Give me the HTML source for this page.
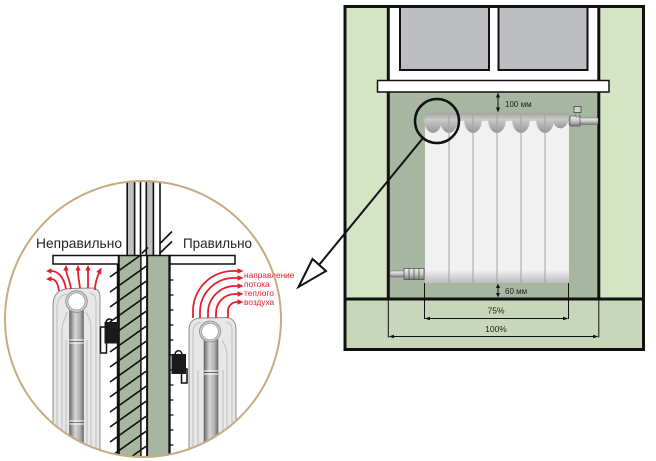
<!DOCTYPE html>
<html><head><meta charset="utf-8"><style>
html,body{margin:0;padding:0;background:#fff;width:656px;height:461px;overflow:hidden;}
svg{display:block;overflow:hidden;}
text{font-family:"Liberation Sans","DejaVu Sans",sans-serif;}
</style></head><body>
<svg width="656" height="461" viewBox="0 0 656 461" xmlns="http://www.w3.org/2000/svg">
<defs>
 <clipPath id="cc"><circle cx="143" cy="319" r="138"/></clipPath>
 <clipPath id="hc"><rect x="100" y="256" width="47" height="204"/></clipPath>
 <linearGradient id="tube" x1="0" x2="1" y1="0" y2="0">
  <stop offset="0" stop-color="#6a6a6a"/><stop offset="0.4" stop-color="#d6d6d6"/><stop offset="0.75" stop-color="#b0b0b0"/><stop offset="1" stop-color="#6e6e6e"/>
 </linearGradient>
 <linearGradient id="pipe" x1="0" x2="0" y1="0" y2="1">
  <stop offset="0" stop-color="#f2f2f2"/><stop offset="0.5" stop-color="#c8c8c8"/><stop offset="1" stop-color="#7c7c7c"/>
 </linearGradient>
 <linearGradient id="cap" x1="0" x2="0" y1="0" y2="1">
  <stop offset="0" stop-color="#a4a4a4"/><stop offset="1" stop-color="#d2d2d2"/>
 </linearGradient>
 <linearGradient id="bulb" x1="0" x2="0" y1="0" y2="1">
  <stop offset="0" stop-color="#cbcbcb"/><stop offset="1" stop-color="#979797"/>
 </linearGradient>
 <linearGradient id="bot" x1="0" x2="0" y1="0" y2="1">
  <stop offset="0" stop-color="#f1f1f1"/><stop offset="1" stop-color="#bdbdbd"/>
 </linearGradient>
</defs>

<!-- ============ RIGHT PANEL ============ -->
<rect x="345" y="6.5" width="298.5" height="343" fill="#d6e4c6"/>
<rect x="345" y="299" width="298.5" height="50.5" fill="#c8d7b9"/>
<rect x="388" y="92" width="211" height="207" fill="#a7b6a0"/>
<rect x="388" y="6.5" width="211" height="74" fill="#fff"/>
<rect x="400" y="7" width="89" height="63" fill="#bdbec1" stroke="#111" stroke-width="2"/>
<rect x="498.5" y="7" width="89" height="63" fill="#bdbec1" stroke="#111" stroke-width="2"/>
<line x1="388.3" y1="6" x2="388.3" y2="299" stroke="#111" stroke-width="3"/>
<line x1="598.8" y1="6" x2="598.8" y2="299" stroke="#111" stroke-width="3"/>
<line x1="345" y1="299" x2="643.5" y2="299" stroke="#111" stroke-width="3"/>
<rect x="377.5" y="80.5" width="231.5" height="11.5" fill="#fff" stroke="#111" stroke-width="1.5"/>

<!-- radiator -->
<rect x="425" y="113" width="144" height="170" fill="#f1f1f1"/>
<rect x="425" y="113" width="144" height="8" fill="url(#cap)"/>
<g fill="url(#bulb)">
 <path d="M424,119 A9,14 0 0 0 442,119 Z"/>
 <path d="M440,119 A9,14 0 0 0 458,119 Z"/>
 <path d="M464,119 A9,14 0 0 0 482,119 Z"/>
 <path d="M488,119 A9,14 0 0 0 506,119 Z"/>
 <path d="M512,119 A9,14 0 0 0 530,119 Z"/>
 <path d="M536,119 A9,14 0 0 0 554,119 Z"/>
 <path d="M552,119 A9,14 0 0 0 569,119 Z"/>
</g>
<rect x="425" y="270" width="144" height="13" fill="url(#bot)"/>
<g stroke="#a3a3a3" stroke-width="1">
 <line x1="449" y1="113" x2="449" y2="283"/>
 <line x1="473" y1="113" x2="473" y2="283"/>
 <line x1="497" y1="113" x2="497" y2="283"/>
 <line x1="521" y1="113" x2="521" y2="283"/>
 <line x1="545" y1="113" x2="545" y2="283"/>
</g>
<!-- top right pipe & valve -->
<rect x="569" y="118" width="29" height="6.5" fill="url(#pipe)" stroke="#666" stroke-width="0.5"/>
<rect x="570" y="116" width="10" height="10" fill="url(#pipe)" stroke="#555" stroke-width="0.7"/>
<rect x="576" y="112" width="3" height="5" fill="#bbb" stroke="#555" stroke-width="0.5"/>
<rect x="574" y="106.5" width="7" height="6" fill="#d0d0d0" stroke="#444" stroke-width="0.8"/>
<!-- bottom left pipe -->
<rect x="390" y="271" width="15" height="6" fill="url(#pipe)" stroke="#666" stroke-width="0.5"/>
<rect x="404" y="268.5" width="20" height="11" fill="url(#pipe)" stroke="#555" stroke-width="0.8"/>
<g stroke="#555" stroke-width="0.8"><line x1="409" y1="268.5" x2="409" y2="279.5"/><line x1="414" y1="268.5" x2="414" y2="279.5"/><line x1="419" y1="268.5" x2="419" y2="279.5"/></g>

<!-- dimensions -->
<g stroke="#111" stroke-width="1" fill="none">
 <line x1="498" y1="95" x2="498" y2="110"/>
 <line x1="498" y1="286" x2="498" y2="295"/>
 <line x1="424.5" y1="283" x2="424.5" y2="319"/>
 <line x1="568.5" y1="283" x2="568.5" y2="319"/>
 <line x1="426" y1="318.5" x2="567" y2="318.5"/>
 <line x1="388.3" y1="300" x2="388.3" y2="337.5"/>
 <line x1="598.8" y1="300" x2="598.8" y2="337.5"/>
 <line x1="390" y1="336.5" x2="597" y2="336.5"/>
</g>
<g fill="#111">
 <polygon points="498,92.5 496,97.5 500,97.5"/>
 <polygon points="498,112.5 496,107.5 500,107.5"/>
 <polygon points="498,283.5 496,288 500,288"/>
 <polygon points="498,297.5 496,293 500,293"/>
 <polygon points="424.5,318.5 430,316.8 430,320.2"/>
 <polygon points="568.5,318.5 563,316.8 563,320.2"/>
 <polygon points="388.5,336.5 394,334.8 394,338.2"/>
 <polygon points="598.5,336.5 593,334.8 593,338.2"/>
</g>
<g fill="#222" font-size="8">
 <text x="505" y="107">100 мм</text>
 <text x="505" y="294">60 мм</text>
</g>
<g fill="#222" font-size="8.5" text-anchor="middle">
 <text x="496" y="313.5">75%</text>
 <text x="496" y="332">100%</text>
</g>

<rect x="345" y="6.5" width="298.5" height="343" fill="none" stroke="#111" stroke-width="3"/>

<!-- magnifier circle + pointer -->
<circle cx="437" cy="121" r="22" fill="none" stroke="#111" stroke-width="2.5"/>
<line x1="423" y1="138" x2="319" y2="265" stroke="#111" stroke-width="2"/>
<polygon points="298.5,287 312.5,259 326,271" fill="#fff" stroke="#111" stroke-width="2" stroke-linejoin="miter"/>

<!-- ============ LEFT CIRCLE ============ -->
<g clip-path="url(#cc)">
 <rect x="0" y="170" width="300" height="290" fill="#fff"/>
 <!-- window frame lines -->
 <rect x="128" y="175" width="6" height="80" fill="#c0c1c4"/>
 <rect x="147" y="175" width="6" height="80" fill="#c0c1c4"/>
 <g stroke="#111" stroke-width="1.6">
  <line x1="127.2" y1="175" x2="127.2" y2="255"/>
  <line x1="134.6" y1="175" x2="134.6" y2="255"/>
  <line x1="140.5" y1="175" x2="140.5" y2="255"/>
  <line x1="146.3" y1="175" x2="146.3" y2="255"/>
  <line x1="153.4" y1="175" x2="153.4" y2="255"/>
  <line x1="160" y1="175" x2="160" y2="255"/>
 </g>
 <g stroke="#111" stroke-width="1.6">
  <line x1="159.5" y1="253.5" x2="172" y2="241.5"/>
  <line x1="160" y1="243.5" x2="172" y2="231.5"/>
  <line x1="141.7" y1="253.5" x2="148" y2="247.5"/>
 </g>

 <!-- wall blocks -->
 <rect x="118.3" y="255" width="22.5" height="205" fill="#a7b6a0"/>
 <rect x="141.7" y="255" width="4.5" height="205" fill="#fff"/>
 <rect x="147" y="255" width="22.5" height="205" fill="#a7b6a0"/>
 <!-- hatch -->
 <g clip-path="url(#hc)" stroke="#111" stroke-width="1.6">
  <line x1="110" y1="262" x2="146" y2="236.3"/>
  <line x1="110" y1="277" x2="146" y2="251.3"/>
  <line x1="110" y1="292" x2="146" y2="266.3"/>
  <line x1="110" y1="307" x2="146" y2="281.3"/>
  <line x1="110" y1="322" x2="146" y2="296.3"/>
  <line x1="110" y1="337" x2="146" y2="311.3"/>
  <line x1="110" y1="352" x2="146" y2="326.3"/>
  <line x1="110" y1="367" x2="146" y2="341.3"/>
  <line x1="110" y1="382" x2="146" y2="356.3"/>
  <line x1="110" y1="397" x2="146" y2="371.3"/>
  <line x1="110" y1="412" x2="146" y2="386.3"/>
  <line x1="110" y1="427" x2="146" y2="401.3"/>
  <line x1="110" y1="442" x2="146" y2="416.3"/>
  <line x1="110" y1="457" x2="146" y2="431.3"/>
  <line x1="110" y1="472" x2="146" y2="446.3"/>
 </g>
 <g stroke="#111">
  <line x1="118.3" y1="255" x2="118.3" y2="460" stroke-width="3"/>
  <line x1="140.9" y1="255" x2="140.9" y2="460" stroke-width="1.5"/>
  <line x1="147.1" y1="255" x2="147.1" y2="460" stroke-width="2"/>
  <line x1="169.5" y1="255" x2="169.5" y2="460" stroke-width="2.3"/>
  <line x1="117" y1="255.5" x2="170.5" y2="255.5" stroke-width="1.5"/>
 </g>
 <g stroke="#111" stroke-width="1.3">
  <line x1="170" y1="280" x2="173.5" y2="280"/>
  <line x1="170" y1="295" x2="173.5" y2="295"/>
  <line x1="170" y1="310" x2="173.5" y2="310"/>
  <line x1="170" y1="325" x2="173.5" y2="325"/>
  <line x1="170" y1="340" x2="173.5" y2="340"/>
  <line x1="170" y1="355" x2="173.5" y2="355"/>
  <line x1="170" y1="370" x2="173.5" y2="370"/>
  <line x1="170" y1="385" x2="173.5" y2="385"/>
  <line x1="170" y1="400" x2="173.5" y2="400"/>
  <line x1="170" y1="415" x2="173.5" y2="415"/>
  <line x1="170" y1="430" x2="173.5" y2="430"/>
  <line x1="170" y1="445" x2="173.5" y2="445"/>
 </g>

 <!-- sills -->
 <rect x="53" y="255.5" width="65.5" height="8.5" fill="#fff" stroke="#111" stroke-width="1.5"/>
 <rect x="170" y="255.5" width="65" height="8.5" fill="#fff" stroke="#111" stroke-width="1.5"/>

 <!-- left radiator -->
 <path d="M53,460 L53,305 C53,293 60,289 70,288.5 L92,288 C98,288 100,292 100,298 L100,460 Z" fill="#e7e7e7" stroke="#8c8c8c" stroke-width="1"/>
 <g fill="none" stroke="#b5b5b5" stroke-width="0.8">
  <path d="M57,460 L57,308 C57,299 61,295 67,294"/>
  <path d="M62,460 L62,330 C62,322 66,318 67,312"/>
  <path d="M96,460 L96,302 C96,297 94,294 90,293"/>
  <path d="M91,460 L91,330 C91,320 88,316 86,312"/>
  <line x1="66" y1="340" x2="66" y2="460"/>
  <line x1="87" y1="340" x2="87" y2="460"/>
 </g>
 <rect x="69.5" y="310" width="14" height="150" fill="url(#tube)" stroke="#666" stroke-width="0.6"/>
 <g stroke="#fff" stroke-width="1"><line x1="69.5" y1="340" x2="83.5" y2="340"/><line x1="69.5" y1="343" x2="83.5" y2="343"/><line x1="69.5" y1="421" x2="83.5" y2="421"/><line x1="69.5" y1="424" x2="83.5" y2="424"/></g>
 <g stroke="#333" stroke-width="0.6"><line x1="69.5" y1="341.5" x2="83.5" y2="341.5"/><line x1="69.5" y1="422.5" x2="83.5" y2="422.5"/></g>
 <circle cx="76.5" cy="301.5" r="10.8" fill="#cfcfcf" stroke="#888" stroke-width="0.8"/>
 <circle cx="76.5" cy="301.5" r="8.5" fill="#fff" stroke="#999" stroke-width="0.8"/>
 <!-- left bracket -->
 <rect x="100.5" y="327" width="6" height="26" fill="#fff" stroke="#111" stroke-width="1.5"/>
 <rect x="104.5" y="322" width="14" height="21.5" fill="#1a1a1a"/>
 <path d="M106,323 C106,319 110,318 112,320" fill="none" stroke="#111" stroke-width="1.5"/>

 <!-- right radiator -->
 <path d="M189,460 L189,330 C189,321 194,318 202,318 L226,317.5 C233,318 236,322 236,330 L236,460 Z" fill="#e7e7e7" stroke="#8c8c8c" stroke-width="1"/>
 <g fill="none" stroke="#b5b5b5" stroke-width="0.8">
  <path d="M193,460 L193,332 C193,326 196,323 201,322"/>
  <path d="M232,460 L232,330 C232,325 230,323 226,322"/>
  <path d="M227,460 L227,355 C227,348 224,344 222,340"/>
  <line x1="198" y1="370" x2="198" y2="460"/>
  <line x1="223" y1="370" x2="223" y2="460"/>
 </g>
 <rect x="204" y="340" width="14" height="120" fill="url(#tube)" stroke="#666" stroke-width="0.6"/>
 <g stroke="#fff" stroke-width="1"><line x1="204" y1="371" x2="218" y2="371"/><line x1="204" y1="374" x2="218" y2="374"/></g>
 <line x1="204" y1="372.5" x2="218" y2="372.5" stroke="#333" stroke-width="0.6"/>
 <circle cx="210" cy="331.5" r="10.5" fill="#cfcfcf" stroke="#888" stroke-width="0.8"/>
 <circle cx="210" cy="331.5" r="8.3" fill="#fff" stroke="#999" stroke-width="0.8"/>
 <!-- right bracket -->
 <rect x="181.5" y="369" width="5.5" height="14" fill="#fff" stroke="#111" stroke-width="1.5"/>
 <rect x="171.5" y="354" width="14.5" height="20" fill="#1a1a1a"/>
 <path d="M175,355 C175,350 181,349 182,354" fill="none" stroke="#111" stroke-width="1.5"/>
</g>

<!-- red arrows left -->
<g fill="none" stroke="#e3202b" stroke-width="1.8">
 <path d="M66,289 C64,277 58,271 51,271"/>
 <path d="M59,291 C58,283 55,279 51,279"/>
 <path d="M71,289 C70,281 67,276 66,270"/>
 <path d="M80,288 C79,281 78,276 78,270"/>
 <path d="M88,288 L88,270"/>
 <path d="M95,290 C95,283 97,278 99,273"/>
</g>
<g fill="#e3202b">
 <polygon points="46,271 51.5,268.3 51.5,273.7"/>
 <polygon points="46,279 51.5,276.3 51.5,281.7"/>
 <polygon points="66,265 63.3,270.5 68.7,270.5"/>
 <polygon points="78,265 75.3,270.5 80.7,270.5"/>
 <polygon points="88,265 85.3,270.5 90.7,270.5"/>
 <polygon points="101.5,267.5 96.3,271.8 101.2,274.5"/>
</g>
<!-- red arrows right -->
<g fill="none" stroke="#e3202b" stroke-width="1.8">
 <path d="M193,318 L193,311 A40,40 0 0 1 233,271 L238,271"/>
 <path d="M200,318 L200,312 A34,34 0 0 1 234,278 L238,278"/>
 <path d="M208,318 L208,313 A27,27 0 0 1 235,286 L238,286"/>
 <path d="M216,318 L216,313 A19,19 0 0 1 235,294 L238,294"/>
 <path d="M228,318 L228,311 A9,9 0 0 1 237,302 L238,302"/>
</g>
<g fill="#e3202b">
 <polygon points="243.5,271 237.5,268.3 237.5,273.7"/>
 <polygon points="243.5,278 237.5,275.3 237.5,280.7"/>
 <polygon points="243.5,286 237.5,283.3 237.5,288.7"/>
 <polygon points="243.5,294 237.5,291.3 237.5,296.7"/>
 <polygon points="243.5,302 237.5,299.3 237.5,304.7"/>
</g>
<g fill="#e3202b" font-size="8.3">
 <text x="244" y="278">направление</text>
 <text x="244" y="287">потока</text>
 <text x="244" y="296">теплого</text>
 <text x="244" y="305">воздуха</text>
</g>

<!-- labels -->
<g fill="#231f20" font-size="14">
 <text x="36" y="248" textLength="86" lengthAdjust="spacingAndGlyphs">Неправильно</text>
 <text x="183" y="248" textLength="69" lengthAdjust="spacingAndGlyphs">Правильно</text>
</g>

<circle cx="143" cy="319" r="138" fill="none" stroke="#c8ab80" stroke-width="2"/>
</svg>
</body></html>
